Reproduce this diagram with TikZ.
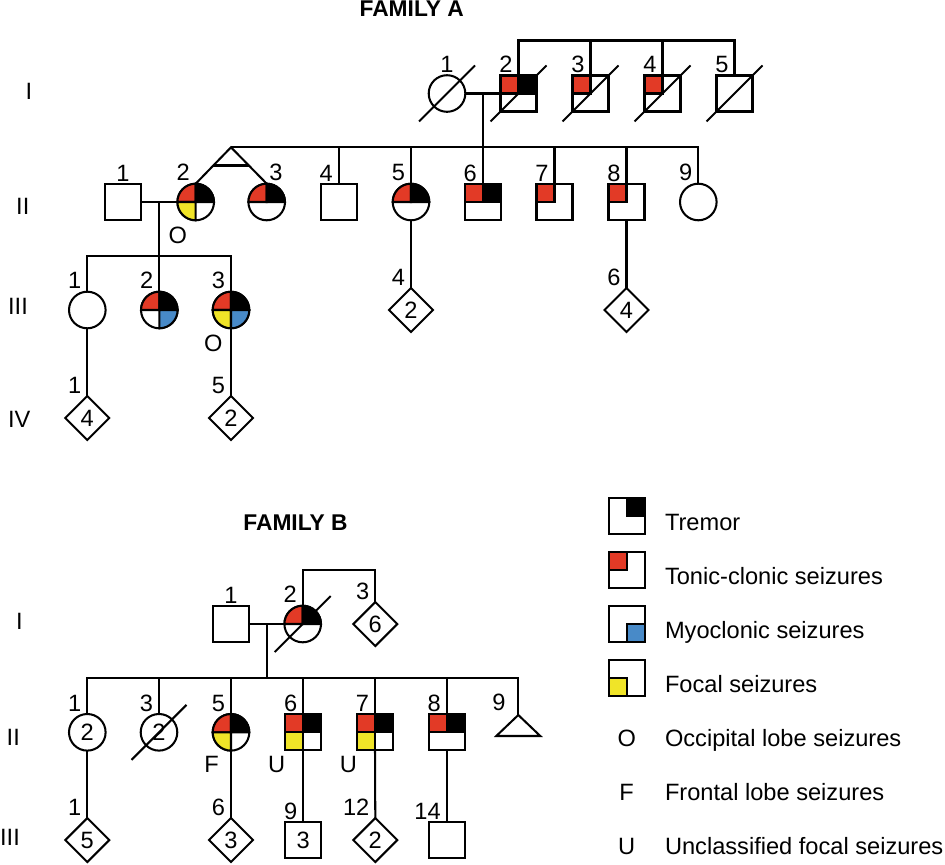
\documentclass[tikz,border=0pt]{standalone}
\usepackage{fontspec}
\setmainfont{Liberation Sans}
\usetikzlibrary{shapes.geometric,calc}
\definecolor{tcred}{RGB}{226,58,38}
\definecolor{focyel}{RGB}{240,228,40}
\definecolor{myoblue}{RGB}{72,138,200}

\begin{document}
\begin{tikzpicture}[x=.25mm, y=.25mm, line width=1.45pt, radius=4.575mm,
  every node/.style={font=\fontsize{16.8}{20}\selectfont},
  male/.style={draw, fill=white, rectangle, minimum size=9mm, inner sep=0pt, outer sep=0pt},
  female/.style={draw, fill=white, circle, minimum size=9.15mm, inner sep=0pt, outer sep=0pt},
  unk/.style={draw, fill=white, diamond, minimum width=11mm, minimum height=11mm, inner sep=0pt, outer sep=0pt},
  lab/.style={inner sep=0pt, yshift=.75mm},
  num/.style={label={[lab, anchor=base east, xshift=-1.25mm]90:#1}},
  numc/.style={label={[lab, anchor=base]90:#1}},
  numr/.style={label={[lab, anchor=base west, xshift=.4mm]90:#1}},
  tonic/.style={fill=tcred}, tremor/.style={fill=black},
  myo/.style={fill=myoblue}, focal/.style={fill=focyel},
  legtext/.style={anchor=base west, inner sep=0pt},
  famtitle/.style={font=\fontsize{16.2}{19}\selectfont\bfseries, anchor=base, inner sep=0pt}]
\useasboundingbox (0,0) rectangle (945,-864);
%
% FAMILY A
\node[famtitle] (famA) at (411.7,-16.7) {FAMILY A};
\node (aGI) at (29,-91) {I};
\node (aGII) at (22.8,-206.7) {II};
\node (aGIII) at (18,-306.7) {III};
\node (aGIV) at (19.3,-419.5) {IV};
%
\node[female, numc=1] (aI1) at (447,-93.5) {};
\node[male, num=2] (aI2) at (518.5,-93.5) {};
\node[male, num=3] (aI3) at (590.5,-93.5) {};
\node[male, num=4] (aI4) at (662.5,-93.5) {};
\node[male, num=5] (aI5) at (734.5,-93.5) {};
\filldraw[tonic] (aI2.north west) rectangle (aI2.center);
\filldraw[tremor] (aI2.north) rectangle (aI2.east);
\filldraw[tonic] (aI3.north west) rectangle (aI3.center);
\filldraw[tonic] (aI4.north west) rectangle (aI4.center);
\draw (aI1.center) ++(-28,-28) -- ++(56,56);
\draw (aI2.center) ++(-28,-28) -- ++(56,56);
\draw (aI3.center) ++(-28,-28) -- ++(56,56);
\draw (aI4.center) ++(-28,-28) -- ++(56,56);
\draw (aI5.center) ++(-28,-28) -- ++(56,56);
%
\node[male, numc=1] (aII1) at (123,-202) {};
\node[female, num=2] (aII2) at (195.7,-202) {};
\node[female, numr=3] (aII3) at (266.7,-202) {};
\node[male, num=4] (aII4) at (338.7,-202) {};
\node[female, num=5] (aII5) at (411,-202) {};
\node[male, num=6] (aII6) at (482.7,-202) {};
\node[male, num=7] (aII7) at (554.5,-202) {};
\node[male, num=8] (aII8) at (626.5,-202) {};
\node[female, num=9] (aII9) at (698.3,-202) {};
\filldraw[tonic] (aII2.center) -- (aII2.west) arc[start angle=180, end angle=90] -- cycle;
\filldraw[tremor] (aII2.center) -- (aII2.north) arc[start angle=90, end angle=0] -- cycle;
\filldraw[focal] (aII2.center) -- (aII2.south) arc[start angle=270, end angle=180] -- cycle;
\filldraw[tonic] (aII3.center) -- (aII3.west) arc[start angle=180, end angle=90] -- cycle;
\filldraw[tremor] (aII3.center) -- (aII3.north) arc[start angle=90, end angle=0] -- cycle;
\filldraw[tonic] (aII5.center) -- (aII5.west) arc[start angle=180, end angle=90] -- cycle;
\filldraw[tremor] (aII5.center) -- (aII5.north) arc[start angle=90, end angle=0] -- cycle;
\filldraw[tonic] (aII6.north west) rectangle (aII6.center);
\filldraw[tremor] (aII6.north) rectangle (aII6.east);
\filldraw[tonic] (aII7.north west) rectangle (aII7.center);
\filldraw[tonic] (aII8.north west) rectangle (aII8.center);
\node (aII2o) at (177.7,-235) {O};
%
\node[female, num=1] (aIII1) at (87.3,-310) {};
\node[female, num=2] (aIII2) at (159.3,-310) {};
\node[female, num=3] (aIII3) at (231,-310) {};
\node[unk, num=4] (aIII4) at (411,-310) {2};
\node[unk, num=6] (aIII6) at (626.5,-310) {4};
\filldraw[tonic] (aIII2.center) -- (aIII2.west) arc[start angle=180, end angle=90] -- cycle;
\filldraw[tremor] (aIII2.center) -- (aIII2.north) arc[start angle=90, end angle=0] -- cycle;
\filldraw[myo] (aIII2.center) -- (aIII2.east) arc[start angle=0, end angle=-90] -- cycle;
\filldraw[tonic] (aIII3.center) -- (aIII3.west) arc[start angle=180, end angle=90] -- cycle;
\filldraw[tremor] (aIII3.center) -- (aIII3.north) arc[start angle=90, end angle=0] -- cycle;
\filldraw[focal] (aIII3.center) -- (aIII3.south) arc[start angle=270, end angle=180] -- cycle;
\filldraw[myo] (aIII3.center) -- (aIII3.east) arc[start angle=0, end angle=-90] -- cycle;
\node (aIII3o) at (213.3,-343) {O};
%
\node[unk, num=1] (aIV1) at (87.3,-418) {4};
\node[unk, num=5] (aIV5) at (231,-418) {2};
%
\draw (aI1.east) -- (aI2.west);
\draw (aI2.north) -- ++(0,35) -| (aI5.north);
\draw (aI3.north) -- ++(0,35);
\draw (aI4.north) -- ++(0,35);
\coordinate (aIm) at (482.7,-93.5);
\coordinate (aTw) at (231,-147.3);
\draw (aIm) -- (aII6.north);
\draw (aTw) -| (aII9.north);
\draw (aII4.north) -- (aII4.north |- aTw);
\draw (aII5.north) -- (aII5.north |- aTw);
\draw (aII7.north) -- (aII7.north |- aTw);
\draw (aII8.north) -- (aII8.north |- aTw);
\draw (aII2.north) -- (aTw) -- (aII3.north);
\draw ($(aTw)!.5!(aII2.north)$) -- ($(aTw)!.5!(aII3.north)$);
\draw (aII1.east) -- (aII2.west);
\coordinate (aIIm) at (159.3,-202);
\coordinate (aIIIs) at (159.3,-255.7);
\draw (aIIm) -- (aIII2.north);
\draw (aIII1.north) |- (aIIIs) -| (aIII3.north);
\draw (aII5.south) -- (aIII4.north);
\draw (aII8.south) -- (aIII6.north);
\draw (aIII1.south) -- (aIV1.north);
\draw (aIII3.south) -- (aIV5.north);
%
% FAMILY B
\node[famtitle] (famB) at (295.5,-530.7) {FAMILY B};
\node (bGI) at (19.5,-621) {I};
\node (bGII) at (13.3,-737) {II};
\node (bGIII) at (10,-837) {III};
%
\node[male, numc=1] (bI1) at (231,-624) {};
\node[female, num=2] (bI2) at (302.7,-624) {};
\node[unk, num=3] (bI3) at (375.3,-624) {6};
\filldraw[tonic] (bI2.center) -- (bI2.west) arc[start angle=180, end angle=90] -- cycle;
\filldraw[tremor] (bI2.center) -- (bI2.north) arc[start angle=90, end angle=0] -- cycle;
\draw (bI2.center) ++(-28,-28) -- ++(56,56);
%
\node[female, num=1] (bII1) at (87.3,-732.3) {2};
\node[female, num=3] (bII3) at (159,-732.3) {2};
\node[female, num=5] (bII5) at (231,-732.3) {};
\node[male, num=6] (bII6) at (303.3,-732.3) {};
\node[male, num=7] (bII7) at (375,-732.3) {};
\node[male, num=8] (bII8) at (446.7,-732.3) {};
\coordinate (bII9) at (518.3,-715);
\draw (bII9) -- ++(22,-21) -- ++(-44,0) -- cycle;
\node (bII9n) at (499,-702.5) {9};
\draw (bII3.center) ++(-27.5,-27.5) -- ++(55,55);
\filldraw[tonic] (bII5.center) -- (bII5.west) arc[start angle=180, end angle=90] -- cycle;
\filldraw[tremor] (bII5.center) -- (bII5.north) arc[start angle=90, end angle=0] -- cycle;
\filldraw[focal] (bII5.center) -- (bII5.south) arc[start angle=270, end angle=180] -- cycle;
\filldraw[tonic] (bII6.north west) rectangle (bII6.center);
\filldraw[tremor] (bII6.north) rectangle (bII6.east);
\filldraw[focal] (bII6.west) rectangle (bII6.south);
\filldraw[tonic] (bII7.north west) rectangle (bII7.center);
\filldraw[tremor] (bII7.north) rectangle (bII7.east);
\filldraw[focal] (bII7.west) rectangle (bII7.south);
\filldraw[tonic] (bII8.north west) rectangle (bII8.center);
\filldraw[tremor] (bII8.north) rectangle (bII8.east);
\node (bII5f) at (211.7,-764) {F};
\node (bII6u) at (276.7,-764) {U};
\node (bII7u) at (348.3,-764) {U};
%
\node[unk, num=1] (bIII1) at (87.3,-840) {5};
\node[unk, num=6] (bIII6) at (231,-840) {3};
\node[male, num=9] (bIII9) at (303.3,-840) {3};
\node[unk, num=12] (bIII12) at (375.3,-840) {2};
\node[male, num=14] (bIII14) at (446.7,-840) {};
%
\draw (bI1.east) -- (bI2.west);
\draw (bI2.north) -- ++(0,36) -| (bI3.north);
\coordinate (bIm) at (266.7,-624);
\coordinate (bIIs) at (266.7,-677.7);
\draw (bIm) -- (bIIs);
\draw (bII1.north) |- (bII9 |- bIIs) -- (bII9);
\draw (bII3.north) -- (bII3.north |- bIIs);
\draw (bII5.north) -- (bII5.north |- bIIs);
\draw (bII6.north) -- (bII6.north |- bIIs);
\draw (bII7.north) -- (bII7.north |- bIIs);
\draw (bII8.north) -- (bII8.north |- bIIs);
\draw (bII1.south) -- (bIII1.north);
\draw (bII5.south) -- (bIII6.north);
\draw (bII6.south) -- (bIII9.north);
\draw (bII7.south) -- (bIII12.north);
\draw (bII8.south) -- (bIII14.north);
%
% legend
\node[male] (lgTr) at (626.7,-516.3) {};
\filldraw[tremor] (lgTr.north) rectangle (lgTr.east);
\node[legtext] (lgTrT) at (664,-530.5) {Tremor};
\node[male] (lgTc) at (626.7,-570.3) {};
\filldraw[tonic] (lgTc.north west) rectangle (lgTc.center);
\node[legtext] (lgTcT) at (664,-584.5) {Tonic-clonic seizures};
\node[male] (lgMy) at (626.7,-624.3) {};
\filldraw[myo] (lgMy.center) rectangle (lgMy.south east);
\node[legtext] (lgMyT) at (664,-638.5) {Myoclonic seizures};
\node[male] (lgFo) at (626.7,-678.3) {};
\filldraw[focal] (lgFo.west) rectangle (lgFo.south);
\node[legtext] (lgFoT) at (664,-692.5) {Focal seizures};
\node[anchor=base] (lgO) at (626.7,-746.5) {O};
\node[legtext] (lgOT) at (664,-746.5) {Occipital lobe seizures};
\node[anchor=base] (lgF) at (626.7,-800.5) {F};
\node[legtext] (lgFT) at (664,-800.5) {Frontal lobe seizures};
\node[anchor=base] (lgU) at (626.7,-854.5) {U};
\node[legtext] (lgUT) at (664,-854.5) {Unclassified focal seizures};
\end{tikzpicture}
\end{document}
